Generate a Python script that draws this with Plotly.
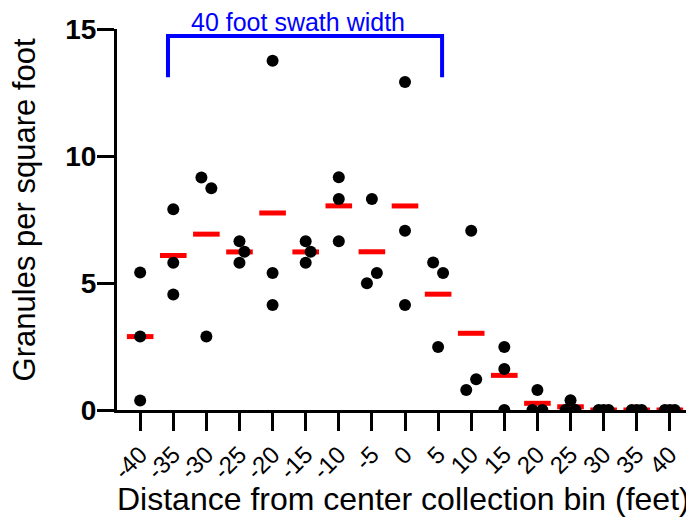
import numpy as np
import plotly.graph_objects as go

# distance bins (feet) and the three granule counts per bin
bins = [-40, -35, -30, -25, -20, -15, -10, -5, 0, 5, 10, 15, 20, 25, 30, 35, 40]
rep1 = [5.41, 7.90, 9.15, 6.64, 13.75, 6.64, 9.16, 8.31, 12.91, 5.81, 7.06, 2.48, 0.79, 0.38, 0.0, 0.0, 0.0]
rep2 = [2.89, 5.80, 8.73, 6.23, 5.39, 6.23, 8.31, 5.39, 7.06, 5.39, 1.21, 1.61, 0.0, 0.0, 0.0, 0.0, 0.0]
rep3 = [0.37, 4.55, 2.89, 5.80, 4.13, 5.80, 6.64, 4.99, 4.13, 2.48, 0.79, 0.0, 0.0, 0.0, 0.0, 0.0, 0.0]
tick_labels = [str(b) for b in bins]

# horizontal scatter of overlapping dots (in x units, Prism style)
jitter = [
    [0, 0, 0], [0, 0, 0], [-0.75, 0.75, 0], [0, 0.75, 0], [0, 0, 0], [0, 0.75, 0],
    [0, 0, 0], [0, 0.75, -0.75], [0, 0, 0], [-0.75, 0.75, 0], [0, 0.75, -0.75],
    [0, 0, 0], [0, -0.75, 0.75], [0, -0.75, 0.75], [-0.75, 0, 0.75], [-0.75, 0, 0.75], [-0.75, 0, 0.75],
]

FONT = "Liberation Sans, Arial, sans-serif"

reps = np.array([rep1, rep2, rep3])
means = reps.mean(axis=0)

xs, ys = [], []
for i, b in enumerate(bins):
    for r in range(3):
        xs.append(b + jitter[i][r])
        ys.append(reps[r][i])

fig = go.Figure()
# mean bars (line-ew draws 1.4x the marker size)
fig.add_trace(go.Scatter(
    x=bins, y=means, mode="markers",
    marker=dict(symbol="line-ew", size=19, line=dict(color="#ff0000", width=5)),
    showlegend=False, hoverinfo="y"
))
fig.add_trace(go.Scatter(
    x=xs, y=ys, mode="markers",
    marker=dict(color="black", size=12, line=dict(width=0)),
    showlegend=False
))

# swath bracket
fig.add_shape(type="path", path="M -35.8,13.1 L -35.8,14.72 L 5.6,14.72 L 5.6,13.1",
              line=dict(color="#0000ff", width=4))
fig.add_annotation(xref="paper", yref="paper", x=0.3134, y=1.0184, text="40 foot swath width",
                   showarrow=False, font=dict(family=FONT, size=25, color="#0000ff"),
                   xanchor="center", yanchor="middle", borderpad=0)

# axis titles
fig.add_annotation(xref="paper", yref="paper", x=0.498, y=-0.2336,
                   text="Distance from center collection bin (feet)", showarrow=False,
                   font=dict(family=FONT, size=32, color="black"), xanchor="center", yanchor="middle")
fig.add_annotation(xref="paper", yref="paper", x=-0.159, y=0.525, textangle=-90,
                   text="Granules per square foot", showarrow=False, borderpad=0,
                   font=dict(family=FONT, size=31, color="black"), xanchor="center", yanchor="middle")

# page body adds an 8px offset, so the figure is sized to fit the window
fig.update_layout(
    width=686, height=517,
    margin=dict(l=109, r=1, t=21, b=115),
    plot_bgcolor="white", paper_bgcolor="white",
    font=dict(family=FONT, color="black"),
)
fig.update_xaxes(
    range=[-43.5, 43.5], tickvals=bins, ticktext=tick_labels, tickangle=-45,
    showline=True, linecolor="black", linewidth=3, showgrid=False, zeroline=False,
    ticks="outside", ticklen=18, tickwidth=3, tickcolor="black",
    tickfont=dict(size=24), automargin=False,
)
fig.update_yaxes(
    range=[0, 15], tickvals=[0, 5, 10, 15],
    showline=True, linecolor="black", linewidth=3, showgrid=False, zeroline=False,
    ticks="outside", ticklen=17, tickwidth=3, tickcolor="black",
    tickfont=dict(size=28, family=FONT, weight="bold"), automargin=False,
    ticklabelstandoff=-5,
)

fig.write_html("out.html")
